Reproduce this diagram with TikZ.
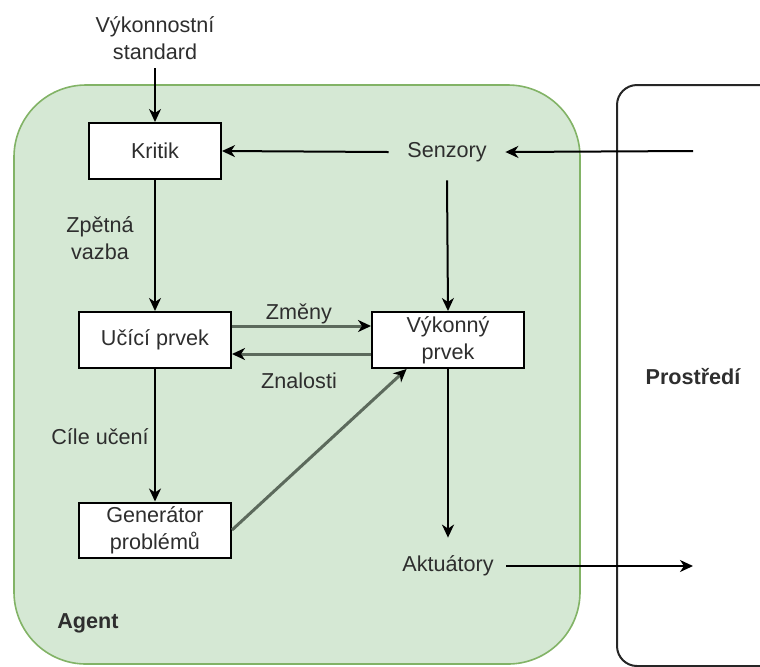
\documentclass[tikz,border=0pt]{standalone}
\usepackage{fontspec}
\setmainfont{Liberation Sans}
\usetikzlibrary{arrows.meta,calc}
\definecolor{agentfill}{HTML}{D5E8D4}
\definecolor{agentline}{HTML}{82B366}
\definecolor{txt}{HTML}{2E2E2E}
\definecolor{flow}{HTML}{5C6A5C}
\begin{document}
\begin{tikzpicture}[x=0.5pt,y=-0.5pt,
  font=\fontsize{10.8}{13.5}\selectfont,
  every node/.style={text=txt, align=center},
  block/.style={draw=black, line width=1pt, fill=white, inner sep=0pt},
  ghost/.style={inner sep=0pt, minimum width=58pt, minimum height=28pt},
  tag/.style={inner sep=0pt},
  conn/.style={draw=black, line width=1pt, -{Stealth[length=6.5pt,width=6pt,inset=2pt]}},
  gconn/.style={draw=flow, line width=1.5pt, -{Stealth[length=6.5pt,width=6pt,inset=2pt,color=black]}}
]
\useasboundingbox (0,0) rectangle (760,666);
\clip (0,0) rectangle (760,666);

% agent and environment frames
\draw[fill=agentfill, draw=agentline, line width=0.8pt, rounded corners=36pt]
  (14,85) rectangle (580,664);
\draw[draw=black!85, line width=1pt, rounded corners=10pt]
  (617,85) rectangle (820,666);

% components
\node[tag] (std) at (155,38) {Výkonnostní\\standard};
\coordinate (stdout) at (155,68);
\node[block, minimum width=66pt, minimum height=28pt] (kritik) at (155,151) {Kritik};
\node[ghost] (senz) at (447,152) {Senzory};
\node[block, minimum width=76pt, minimum height=28pt] (ucici) at (155,340) {Učící prvek};
\node[block, minimum width=76pt, minimum height=28pt] (vyk) at (448,340) {Výkonný\\prvek};
\node[block, minimum width=76pt, minimum height=27.5pt] (gen) at (155,530) {Generátor\\problémů};
\node[ghost] (akt) at (448,566) {Aktuátory};
\coordinate (envin) at (693,151);
\coordinate (envout) at (693,566);

% labels
\node[tag] at (100,238) {Zpětná\\vazba};
\node[tag] at (100,437) {Cíle učení};
\node[tag] at (299,314) {Změny};
\node[tag] at (299,381) {Znalosti};
\node[tag, font=\fontsize{10.8}{13.5}\selectfont\bfseries] at (88,623) {Agent};
\node[tag, font=\fontsize{10.8}{13.5}\selectfont\bfseries] at (693,377) {Prostředí};

% connectors
\draw[conn] (stdout) -- (kritik.north);
\draw[conn] (senz.west) -- (kritik.east);
\draw[conn] (envin) -- (senz.east);
\draw[conn] (senz.south) -- (vyk.north);
\draw[conn] (kritik.south) -- (ucici.north);
\draw[gconn] ([yshift=7pt]ucici.east) -- ([yshift=7pt]vyk.west);
\draw[gconn] ([yshift=-7pt]vyk.west) -- ([yshift=-7pt]ucici.east);
\draw[conn] (ucici.south) -- (gen.north);
\draw[gconn] (gen.east) -- (vyk.215.7);
\draw[conn] (vyk.south) -- (akt.north);
\draw[conn] (akt.east) -- (envout);
\end{tikzpicture}
\end{document}
